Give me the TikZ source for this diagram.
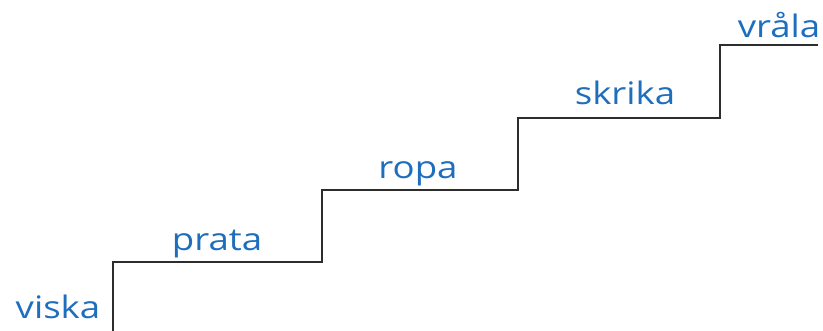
\documentclass[tikz,border=0pt]{standalone}
\usepackage{fontspec}
\newfontfamily\hand[FakeStretch=1.18]{Open Sans}
\definecolor{wordblue}{RGB}{30,110,190}
\definecolor{stairgray}{RGB}{45,45,45}
\begin{document}
\begin{tikzpicture}[x=1pt,y=-1pt,
  word/.style={anchor=base,text=wordblue,font=\hand\fontsize{31}{36}\selectfont,inner sep=0pt},
  stair/.style={draw=stairgray,line width=2pt,line join=miter}]
\useasboundingbox (0,0) rectangle (823,330);
\coordinate (s0) at (112.5,331);
\coordinate (c1) at (112.5,262);
\coordinate (c2) at (321.5,262);
\coordinate (c3) at (321.5,189.5);
\coordinate (c4) at (517.5,189.5);
\coordinate (c5) at (517.5,117.5);
\coordinate (c6) at (719.5,117.5);
\coordinate (c7) at (719.5,45);
\coordinate (e) at (818,45);
\draw[stair] (s0) -- (c1) -- (c2) -- (c3) -- (c4) -- (c5) -- (c6) -- (c7) -- (e);
\node[word] (viska) at (58,318) {viska};
\node[word] (prata) at (217,250) {prata};
\node[word] (ropa) at (418,178) {ropa};
\node[word] (skrika) at (625,104) {skrika};
\node[word] (vrala) at (779,37) {vråla};
\end{tikzpicture}
\end{document}
